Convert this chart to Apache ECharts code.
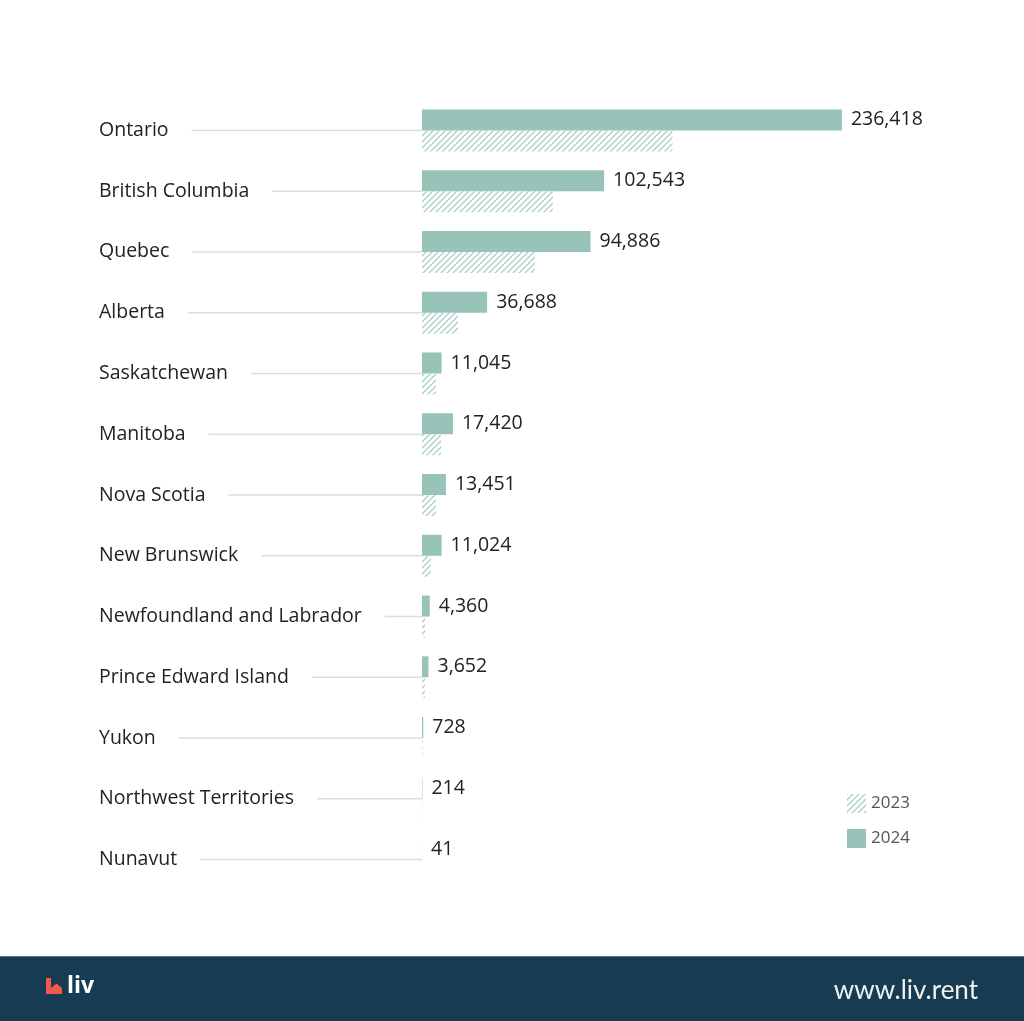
<!DOCTYPE html>
<html><head><meta charset="utf-8">
<style>html,body{margin:0;padding:0;background:#fff;}#c{width:1024px;height:1021px;}</style>
<script src="https://cdn.jsdelivr.net/npm/echarts@6/dist/echarts.min.js"></script>
</head><body><div id="c"></div>
<script>
const categories = ['Ontario','British Columbia','Quebec','Alberta','Saskatchewan','Manitoba','Nova Scotia','New Brunswick','Newfoundland and Labrador','Prince Edward Island','Yukon','Northwest Territories','Nunavut'];
const values2024 = [236418,102543,94886,36688,11045,17420,13451,11024,4360,3652,728,214,41];
const values2023 = [141000,73700,63600,20300,7900,10700,7900,5000,1700,1700,400,120,25];
const seriesNames = ['2023','2024'];

const LABEL_FONT = '19.5px "Open Sans"';
const mctx = document.createElement('canvas').getContext('2d');
mctx.font = LABEL_FONT;
const labelWidths = categories.map(c => mctx.measureText(c).width);

// hatch pattern
const pc = document.createElement('canvas');
pc.width = 6; pc.height = 6;
const pctx = pc.getContext('2d');
pctx.strokeStyle = '#a9d0c7';
pctx.lineWidth = 1.3;
pctx.beginPath();
pctx.moveTo(-1,7); pctx.lineTo(7,-1);
pctx.moveTo(-1,1); pctx.lineTo(1,-1);
pctx.moveTo(5,7); pctx.lineTo(7,5);
pctx.stroke();

const BAR = '#97c3b9';
const LABEL_LEFT = 99;
const chart = echarts.init(document.getElementById('c'));
chart.setOption({
  backgroundColor: '#fff',
  animation: false,
  grid: {left: 422, right: 158, top: 100, height: 790, containLabel: false},
  xAxis: {type: 'value', min: 0, max: 250000, show: false},
  yAxis: {
    type: 'category', data: categories, inverse: true,
    axisLine: {show: false}, axisTick: {show: false},
    axisLabel: {align: 'left', margin: 422 - LABEL_LEFT, color: '#222', fontFamily: 'Open Sans', fontSize: 19.5}
  },
  legend: {
    data: seriesNames, orient: 'vertical', left: 847, top: 794, padding: 0, icon: 'rect',
    itemWidth: 19, itemHeight: 19, itemGap: 16,
    textStyle: {color: '#555', fontFamily: 'Open Sans', fontSize: 17}
  },
  series: [
    {
      name: '2024', type: 'bar', data: values2024, barWidth: 21, barGap: '0%',
      itemStyle: {color: BAR},
      label: {show: true, position: 'right', distance: 9, color: '#222', fontFamily: 'Open Sans', fontSize: 19.5,
        formatter: p => p.value.toLocaleString('en-US')}
    },
    {
      name: '2023', type: 'bar', data: values2023, barWidth: 21, barGap: '0%',
      itemStyle: {color: {image: pc, repeat: 'repeat'}}
    },
    {
      type: 'custom', silent: true, z: 1,
      data: categories.map((c, i) => [0, i]),
      encode: {x: 0, y: 1},
      renderItem: (params, api) => {
        const i = api.value(1);
        const p = api.coord([0, i]);
        const x0 = LABEL_LEFT + labelWidths[i] + 23;
        return {type: 'line', shape: {x1: x0, y1: p[1], x2: p[0], y2: p[1]}, style: {stroke: '#dddddd', lineWidth: 1.5}};
      }
    }
  ],
  graphic: [
    {type: 'rect', shape: {x: 0, y: 957, width: 1024, height: 64}, style: {fill: '#173c51'}},
    {type: 'rect', shape: {x: 0, y: 956, width: 1024, height: 1}, style: {fill: '#5d7686'}},
    {type: 'polygon', shape: {points: [[46,978],[51,978],[51,988],[56.5,983.5],[62,988],[62,994],[46,994]]}, style: {fill: '#f05a4f'}},
    {type: 'text', x: 67, y: 986, style: {text: 'liv', fill: '#ffffff', font: 'bold 23px "Open Sans"', textVerticalAlign: 'middle'}},
    {type: 'text', x: 978, y: 991, style: {text: 'www.liv.rent', fill: '#f2f2f2', font: '26px Lato', textAlign: 'right', textVerticalAlign: 'middle'}}
  ]
});
</script></body></html>
